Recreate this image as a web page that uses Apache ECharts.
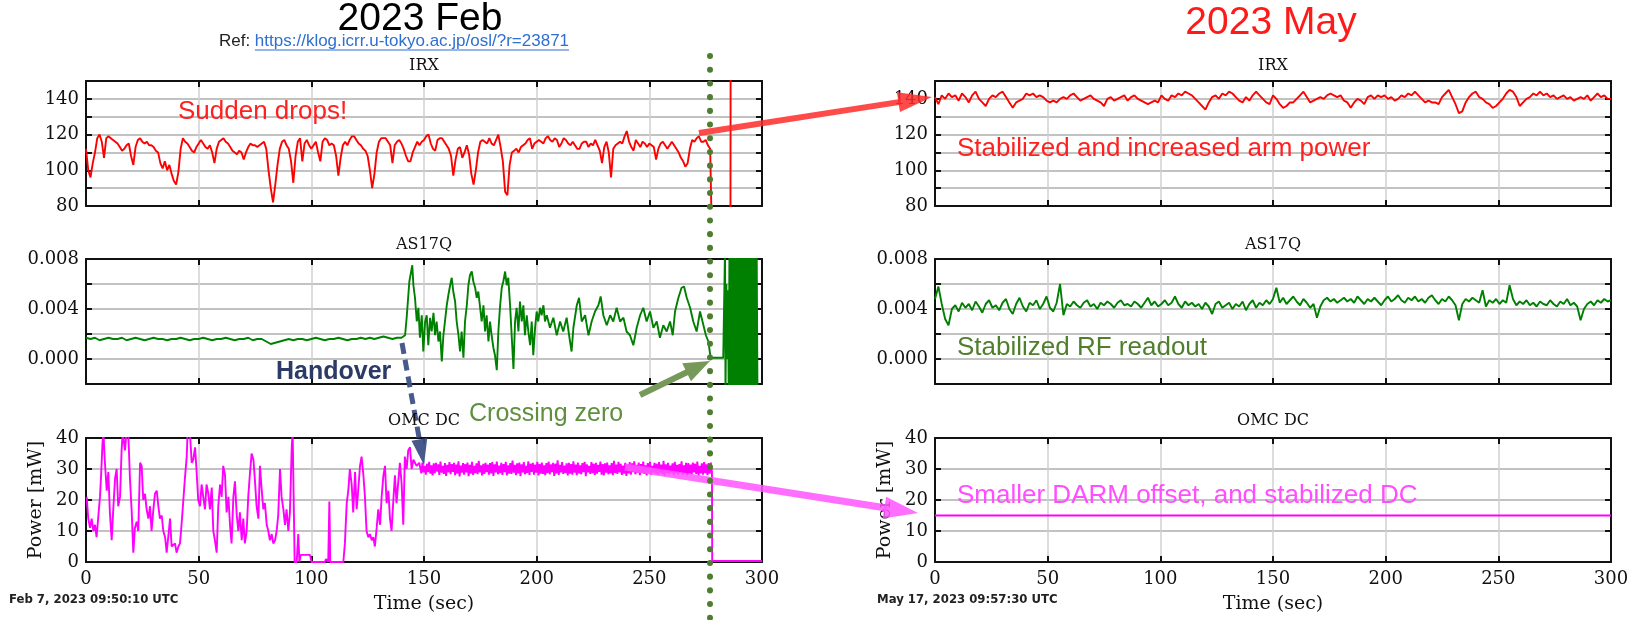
<!DOCTYPE html>
<html>
<head>
<meta charset="utf-8">
<script src="https://cdn.jsdelivr.net/npm/echarts@6.0.0/dist/echarts.min.js"></script>
<style>html,body{margin:0;background:#fff}#main{width:1640px;height:620px}</style>
</head>
<body>
<div id="main"></div>
<script>
// ---- Feb: IRX, one value per second, t = 0..277
const irxFeb = [
 112,100,96,104,110,118,120,116,107,118, 119,118,117,116,115,113,111,112,114,115,
 108,103,113,117,118,116,115,116,114,114, 113,111,110,104,101,105,100,103,98,94,
 92,99,112,118,116,115,113,111,110,113, 115,117,115,113,112,114,110,104,112,116,
 117,118,116,115,113,111,110,109,111,110, 106,110,113,115,114,114,113,114,115,116,
 112,100,90,82,92,103,112,116,117,114, 112,105,93,108,116,118,105,115,117,114,
 112,114,116,110,105,116,118,117,114,115, 114,108,97,107,114,116,114,117,119,119,
 117,115,114,112,111,108,100,90,98,110, 116,118,118,118,116,114,104,114,116,117,
 115,112,108,105,105,110,113,116, 114,116,117,119,120,115,112,111,117,118,
 118,116,114,112,108,97,106,112,113,107, 110,114,109,98,92,100,110,116,117,116,
 115,118,115,114,117,120,113,105,88,86, 103,110,111,112,110,113,114,115,117,118,
 112,115,116,117,116,115,118,119,117,116, 118,117,113,115,118,117,115,114,116,114,
 112,112,115,116,116,113,115,114,117,114, 111,104,113,116,110,96,112,114,115,116,
 115,119,122,116,113,111,117,115,113,116, 115,113,115,114,113,106,112,115,116,114,
 112,114,116,114,112,110,107,105,102,104, 112,117,116,118,119,116,116,117,114,112
];
// lock loss: IRX falls out of range, then jumps
const irxFebTailT = [277.8, 286, 286.1, 300];
const irxFebTailV = [60, 60, 200, 200];

// ---- Feb: AS17Q (units of 1e-4), quiet part every 2 s from t = 0
const asFebFlat = [
 17,16,17,15,16,17,16,16,17,15,16,17,16,15,16,17,16,16,15,16,
 16,17,16,15,16,16,17,16,15,16,16,17,16,15,16,16,17,15,16,16,
 14,12,13,14,15,16,15,16,16,15,16,17,16,15,16,16,17,16,15,16,
 16,17,16,17,16,17,18,17,16,17,17
];
// after handover (units of 1e-4)
const asFebT = [
 141.6,142.3,143.5,144.3,144.8,145.3,146.0,146.8,147.5,148.2,149.0,149.7,150.5,151.2,151.9,152.7,153.4,154.2,154.9,155.6,
 156.4,157.1,157.9,158.6,159.3,160.1,160.8,161.6,162.3,163.0,163.8,164.5,165.3,166.0,166.7,167.5,168.2,169.0,169.7,170.4,
 171.2,171.9,172.7,173.4,174.1,174.9,175.6,176.4,177.1,177.8,178.6,179.3,180.0,180.8,181.5,182.3,183.0,183.7,184.5,185.2,
 186.0,186.7,187.4,188.2,188.9,189.7,190.4,191.1,191.9,192.6,193.4,194.1,194.8,195.6,196.3,197.1,197.8,198.5,199.3,200.0,
 200.7,201.5,202.2,203.0,203.7,204.5,205.9,207.4,208.9,210.4,211.8,213.3,214.8,215.5,216.3,217.8,218.8,220.0,221.5,223.0,
 224.4,225.9,227.4,228.4,229.6,231.1,232.6,234.0,235.5,237.0,238.5,239.9,241.4,242.9,244.4,245.9,247.3,248.8,250.3,251.8,
 253.3,254.7,256.2,257.7,259.2,260.4,261.4,262.9,264.3,265.4,266.6,268.1,269.5,271.0,272.5,274.0,275.1,276.2,277.2,278.1,
 282.8,283.4,283.6,283.8,284.2,284.5,284.9,285.2,285.6,286.0,286.4,286.7,287.1,287.4,287.8,288.1,288.5,288.8,289.2,289.5,
 289.9,290.2,290.6,290.9,291.3,291.6,292.0,292.3,292.7,293.0,293.4,293.7,294.1,294.4,294.8,295.1,295.5,295.8,296.2,296.5,
 296.9,297.2,297.6,298.0
];
const asFebV = [
 19,33,62,70,75,59,49,30,41,17,35,6,30,35,11,33,22,37,19,30,
 14,22,-2,19,30,43,51,59,65,54,46,30,19,6,22,1,30,43,59,67,
 70,62,57,49,54,41,30,43,22,35,14,30,19,9,3,-9,22,41,57,62,
 70,59,65,43,19,-8,30,41,22,46,30,43,19,35,22,11,30,3,25,38,
 30,41,35,43,30,35,25,33,19,30,22,33,14,6,25,43,49,30,35,19,
 30,38,43,50,35,27,35,30,41,30,33,22,19,11,25,35,41,30,38,25,
 30,17,27,22,30,19,38,49,57,58,49,41,30,22,38,27,19,14,1,1,
 1,1,90,-30,60,0,55,-25,100,-30,100,-30,100,-30,100,-30,100,-30,100,-30,
 100,-30,100,-30,100,-30,100,-30,100,-30,100,-30,100,-30,100,-30,100,-30,100,-30,
 100,-30,100,-30
];

// ---- Feb: OMC DC [mW], before handover
const omcFebT = [
 0.3,1.0,1.8,2.5,3.3,4.0,4.7,5.5,6.2,6.7,7.3,7.7,8.4,9.2,9.9,10.6,11.4,12.1,12.9,13.6,
 14.3,15.1,15.8,16.3,17.3,18.0,18.8,19.5,20.3,21.0,21.7,22.5,23.2,24.0,24.7,25.4,26.2,26.9,27.7,28.4,
 29.1,29.9,30.6,31.4,32.1,32.8,33.6,34.3,35.1,35.8,36.5,37.3,38.0,38.8,39.5,40.2,41.0,41.7,42.4,43.2,
 43.9,44.7,45.1,46.1,46.9,47.6,48.4,49.1,49.8,50.6,51.3,52.1,52.8,53.5,54.3,55.0,55.8,56.5,57.2,58.0,
 58.7,59.5,60.2,60.9,61.7,62.4,63.2,63.9,64.6,65.4,66.1,66.9,67.6,68.3,69.1,69.8,70.5,71.3,72.0,72.8,
 73.5,74.3,75.0,75.7,76.5,77.2,78.0,78.7,79.4,80.2,80.9,81.6,82.4,83.1,83.9,84.6,85.3,86.1,86.8,87.6,
 88.3,89.0,89.8,90.5,91.3,91.7,92.3,92.6,93.5,94.2,94.7,95.3,99.4,100.1,106.0,106.5,107.5,108.0,108.4,114.2,
 114.9,115.7,116.4,117.1,117.9,118.6,119.4,120.1,120.8,121.6,122.3,123.1,123.8,124.5,125.3,126.0,126.8,127.5,128.2,129.0,
 129.7,130.5,131.2,132.0,132.7,133.4,134.2,134.9,135.6,136.4,137.1,137.8,138.6,139.3,140.1,140.8,141.5,142.3,143.0,143.8,
 144.5,145.3,146.7,147.9
];
const omcFebV = [
 21,14,11,14,10,12,8,15,21,28,38,42,32,23,29,16,7,17,27,30,
 18,21,36,42,36,42,41,27,16,3,11,13,10,32,31,20,22,17,14,18,
 10,17,22,23,18,14,15,10,8,3,8,14,5,5,6,3,5,6,12,20,
 27,34,42,42,32,33,37,29,20,18,25,25,17,25,22,17,24,10,7,3,
 18,25,21,31,28,16,21,12,6,21,26,15,10,16,7,14,6,10,21,29,
 35,33,26,18,14,31,23,17,19,12,10,7,9,6,7,10,15,30,21,17,
 12,17,10,16,37,42,42,0,0,9,0,2.3,2.3,0,0,0.9,0,19.5,0,0,
 6,19,23,30,25,16,29,17,23,31,34,28,21,10,8,9,7,8,5,11,
 17,12,21,28,31,19,23,14,10,20,28,19,26,32,25,12,34,30,36,37,
 30,33,31,32
];
// after handover, every 0.5 s from t = 148.3
const omcFebBand = [
 31.4,28.6,32.1,28.9,31.0,28.2,31.7,29.0,32.3,28.5, 31.2,27.9,31.8,28.7,32.0,29.2,31.5,28.1,32.4,28.8,
 31.0,28.4,31.9,27.8,31.3,28.9,32.2,28.3,31.6,29.1, 32.0,28.0,31.4,28.6,32.5,27.6,31.1,28.8,31.9,28.2,
 31.6,28.9,32.1,27.7,31.3,28.5,32.3,28.1,31.0,28.7, 31.8,28.3,32.6,28.9,31.2,27.9,31.7,28.4,32.0,29.0,
 31.4,28.2,31.9,28.6,32.2,27.8,31.5,28.9,32.4,28.3, 31.1,28.7,32.0,28.1,31.6,29.0,32.3,27.9,31.2,28.5,
 31.9,28.4,32.7,28.8,31.3,28.0,31.8,28.6,32.1,27.7, 31.5,28.9,32.2,28.3,31.0,28.7,32.5,28.1,31.7,29.1,
 32.0,28.2,31.4,28.8,32.3,27.9,31.6,28.5,32.1,28.4, 31.2,28.0,31.9,28.7,32.4,28.3,31.5,29.0,32.0,27.8,
 31.7,28.6,32.8,28.1,31.3,28.9,32.2,28.4,31.1,28.7, 31.8,27.9,32.0,28.5,31.6,28.2,32.5,28.8,31.4,28.0,
 32.1,28.6,31.2,28.3,31.9,29.0,32.3,27.7,31.5,28.9, 31.0,28.4,32.2,28.7,31.7,28.1,32.0,28.5,31.3,29.1,
 32.4,28.2,31.6,27.9,31.8,28.8,32.1,28.3,31.2,28.6, 31.9,28.0,32.6,28.7,31.4,28.4,32.3,28.9,31.7,28.1,
 31.1,28.5,32.0,27.8,31.5,28.6,32.2,28.2,31.8,29.0, 32.5,28.3,31.3,28.8,32.1,28.0,31.6,28.7,32.4,28.4,
 31.2,27.9,31.9,28.6,32.3,28.2,31.0,28.9,32.0,28.5, 31.7,28.1,32.2,28.8,31.4,28.3,32.6,27.8,31.5,28.7,
 32.0,28.4,31.1,28.9,31.8,28.0,32.3,28.6,31.3,28.2, 31.6,28.8,32.5,28.1,31.2,28.7,32.0,27.9,31.9,28.5,
 31.4,28.3,32.1,28.9,31.7,28.4,32.4,28.0,31.0,28.6, 31.8,28.2,32.2,28.7,31.5,28.0,31.9,28.5,32.1,28.9
];
const omcFebTailT = [277.9, 300];
const omcFebTailV = [0.3, 0.3];

// ---- May, every 1.5 s from t = 0
const irxMay = [
 141,137,142,140,143,141,142,139,143,141, 138,142,144,140,138,136,140,142,141,143,
 144,141,138,135,138,139,140,143,142,143, 141,142,141,139,138,139,138,140,141,140,
 142,143,141,139,140,141,142,140,139,138, 136,140,141,139,140,141,142,139,141,142,
 140,139,138,137,138,139,138,142,140,139, 142,141,143,142,144,143,142,140,138,136,
 134,138,141,142,140,143,142,144,143,141, 139,138,141,139,142,144,142,140,138,137,
 142,140,137,135,136,138,138,140,142,144, 141,138,139,140,141,140,142,143,142,141,
 142,139,138,135,138,140,139,137,141,142, 140,142,141,142,140,141,139,140,142,141,
 143,142,144,142,140,138,139,138,138,137, 141,143,145,141,137,132,133,138,141,143,
 144,141,140,138,137,135,136,138,140,143, 145,144,141,136,138,140,141,143,142,144,
 142,143,141,142,140,141,142,140,141,139, 140,141,140,142,139,141,143,141,142,140,
 140
];
const asMay = [
 48,58,44,32,27,40,43,38,45,41, 44,39,46,42,37,44,47,41,43,39,
 45,48,40,36,44,49,42,38,45,43, 47,40,44,50,41,38,45,60,35,44,
 42,46,43,41,45,47,42,44,40,45, 43,46,44,41,45,47,43,44,42,46,
 44,41,45,49,43,46,42,44,47,43, 45,50,44,41,46,43,45,42,44,40,
 45,42,36,44,46,41,43,45,40,44, 42,46,39,44,47,41,45,43,47,44,
 48,57,45,49,44,47,50,46,43,48, 45,41,44,33,42,47,49,46,48,45,
 47,49,46,48,45,50,47,44,48,46, 49,46,43,47,50,46,48,51,47,45,
 49,47,50,46,48,45,49,51,47,44, 48,46,50,47,43,31,44,48,46,49,
 47,45,55,42,47,45,48,44,47,45, 59,48,43,46,44,47,43,45,42,46,
 44,43,47,44,42,46,44,48,43,45, 42,31,40,44,46,43,47,45,48,46,
 47
];
const omcMayT = [0, 300];
const omcMayV = [15, 15];

const url = 'https://klog.icrr.u-tokyo.ac.jp/osl/?r=23871';

// ---------------------------------------------------------------
const SERIF = "'DejaVu Serif', serif";
const SANS = "'Liberation Sans', Arial, sans-serif";
const NARROW = "'Liberation Sans Narrow', 'DejaVu Sans Condensed', sans-serif";
const colLeft = [86, 935];
const plotW = 676;
const rows = [{top: 81, h: 125}, {top: 259, h: 125}, {top: 438, h: 124}];
const yCfg = [
    {min: 80, max: 150, interval: 10, fmt: v => (v % 20 === 0 ? String(v) : '')},
    {min: -0.002, max: 0.008, interval: 0.002, fmt: v => {
        let k = Math.round(v / 0.002);
        return (k >= 0 && k % 2 === 0) ? (k * 0.002).toFixed(3) : '';
    }},
    {min: 0, max: 40, interval: 10, fmt: v => String(v)}
];
const names = ['IRX', 'AS17Q', 'OMC DC'];

let grid = [], xAxis = [], yAxis = [], elements = [];
const tick = {inside: true, length: 6, lineStyle: {color: '#111', width: 2}};
const line = {show: true, onZero: false, lineStyle: {color: '#111', width: 2}};
const labelFont = {color: '#111', fontFamily: SERIF, fontSize: 18};

for (let c = 0; c < 2; c++) {
    for (let r = 0; r < 3; r++) {
        let g = c * 3 + r;
        grid.push({left: colLeft[c], top: rows[r].top, width: plotW, height: rows[r].h});
        xAxis[g] = {
            gridIndex: g, type: 'value', min: 0, max: 300, interval: 50, position: 'bottom',
            axisLine: line, axisTick: tick,
            axisLabel: Object.assign({show: r === 2, margin: 8}, labelFont),
            splitLine: {show: true, lineStyle: {color: '#d0d0d0', width: 1.5}},
            name: r === 2 ? 'Time (sec)' : '', nameLocation: 'middle', nameGap: 33,
            nameTextStyle: {color: '#111', fontFamily: SERIF, fontSize: 19}
        };
        xAxis[6 + g] = {
            gridIndex: g, type: 'value', min: 0, max: 300, interval: 50, position: 'top',
            axisLine: line, axisTick: tick, axisLabel: {show: false}, splitLine: {show: false}
        };
        let y = yCfg[r];
        yAxis[g] = {
            gridIndex: g, type: 'value', min: y.min, max: y.max, interval: y.interval, position: 'left',
            axisLine: line, axisTick: tick,
            axisLabel: Object.assign({margin: 7, formatter: y.fmt}, labelFont),
            splitLine: {show: true, lineStyle: {color: '#c2c2c2', width: 2}},
            name: r === 2 ? 'Power [mW]' : '', nameLocation: 'middle', nameGap: 40, nameRotate: 90,
            nameTextStyle: {color: '#111', fontFamily: SERIF, fontSize: 19}
        };
        yAxis[6 + g] = {
            gridIndex: g, type: 'value', min: y.min, max: y.max, interval: y.interval, position: 'right',
            axisLine: line, axisTick: tick, axisLabel: {show: false}, splitLine: {show: false}
        };
        elements.push(txt(colLeft[c] + plotW / 2, [66, 245, 421][r], names[r], '#111', '16px ' + SERIF, 'center'));
    }
}

function txt(x, y, text, fill, font, align) {
    return {type: 'text', x: x, y: y, z: 100,
        style: {text: text, fill: fill, font: font, align: align || 'left', textAlign: align || 'left',
            verticalAlign: 'middle', textVerticalAlign: 'middle'}};
}

function arrow(x1, y1, x2, y2, o) {
    let dx = x2 - x1, dy = y2 - y1, len = Math.hypot(dx, dy), ux = dx / len, uy = dy / len;
    let bx = x2 - ux * o.head, by = y2 - uy * o.head;
    let px = -uy * o.hw / 2, py = ux * o.hw / 2;
    return [
        {type: 'line', z: 90, shape: {x1: x1, y1: y1, x2: bx + ux * 2, y2: by + uy * 2},
            style: {stroke: o.color, lineWidth: o.w, lineDash: o.dash || null, opacity: o.op || 1}},
        {type: 'polygon', z: 90, shape: {points: [[x2, y2], [bx + px, by + py], [bx - px, by - py]]},
            style: {fill: o.color, opacity: o.op || 1}}
    ];
}

function pairs(ts, vs, k) {
    return ts.map((t, i) => [t, vs[i] * (k || 1)]);
}

// series data
let irxFebData = irxFeb.map((v, i) => [i, v]).concat(pairs(irxFebTailT, irxFebTailV));
let asFebData = asFebFlat.map((v, i) => [2 * i, v / 1e4]).concat(pairs(asFebT, asFebV, 1e-4));
let omcFebData = pairs(omcFebT, omcFebV)
    .concat(omcFebBand.map((v, i) => [148.3 + 0.5 * i, v]))
    .concat(pairs(omcFebTailT, omcFebTailV));
let irxMayData = irxMay.map((v, i) => [1.5 * i, v]);
let asMayData = asMay.map((v, i) => [1.5 * i, v / 1e4]);
let omcMayData = pairs(omcMayT, omcMayV);

function ser(g, data, color) {
    return {type: 'line', xAxisIndex: g, yAxisIndex: g, data: data, showSymbol: false, symbol: 'none',
        clip: true, lineStyle: {color: color, width: 1.9}, z: 5};
}

// texts
elements.push(txt(420, 19, '2023 Feb', '#000', '39px ' + SANS, 'center'));
elements.push(txt(1271, 23, '2023 May', '#ff1a1a', '39px ' + SANS, 'center'));

let ctx = document.createElement('canvas').getContext('2d');
ctx.font = "17px 'Liberation Sans'";
let refW = ctx.measureText('Ref: ').width, urlW = ctx.measureText(url).width;
let rx = 394 - (refW + urlW) / 2;
elements.push(txt(rx, 41, 'Ref: ', '#222', '17px ' + SANS));
elements.push(txt(rx + refW, 41, url, '#2f6fd0', '17px ' + SANS));
elements.push({type: 'line', z: 100, shape: {x1: rx + refW, y1: 50, x2: rx + refW + urlW, y2: 50},
    style: {stroke: '#2f6fd0', lineWidth: 1.2}});

elements.push(txt(178, 112, 'Sudden drops!', '#ff2020', '26px ' + SANS));
elements.push(txt(957, 149, 'Stabilized and increased arm power', '#ff2020', '26px ' + SANS));
elements.push(txt(957, 348, 'Stabilized RF readout', '#4f7f2c', '26px ' + SANS));
elements.push(txt(957, 496, 'Smaller DARM offset, and stabilized DC', '#ff4dff', '26px ' + SANS));
elements.push(txt(276, 372, 'Handover', '#2b3a67', 'bold 25px ' + SANS));
elements.push(txt(469, 414, 'Crossing zero', '#5f8f3f', '25px ' + SANS));

elements.push(txt(9, 600, 'Feb 7, 2023 09:50:10 UTC', '#222', 'bold 13px ' + NARROW));
elements.push(txt(877, 600, 'May 17, 2023 09:57:30 UTC', '#222', 'bold 13px ' + NARROW));

// arrows and the dotted marker
elements = elements.concat(
    arrow(699, 133, 932, 97, {color: '#ff2a2a', w: 6, head: 34, hw: 20, op: 0.85}),
    arrow(625, 467, 918, 513, {color: '#ff55ff', w: 7, head: 34, hw: 22, op: 0.85}),
    arrow(402, 343, 424, 465, {color: '#3d5185', w: 5, head: 26, hw: 16, op: 0.95, dash: [11, 6]}),
    arrow(640, 395, 710, 361, {color: '#76995a', w: 6, head: 26, hw: 20})
);
elements.push({type: 'line', z: 95, shape: {x1: 710, y1: 56, x2: 710, y2: 620},
    style: {stroke: '#4f7d2f', lineWidth: 6, lineDash: [0.1, 13.6], lineCap: 'round'}});

let chart = echarts.init(document.getElementById('main'));
chart.setOption({
    animation: false,
    backgroundColor: '#fff',
    grid: grid,
    xAxis: xAxis,
    yAxis: yAxis,
    series: [
        ser(0, irxFebData, '#ff0000'),
        ser(1, asFebData, '#008000'),
        ser(2, omcFebData, '#ff00ff'),
        ser(3, irxMayData, '#ff0000'),
        ser(4, asMayData, '#008000'),
        ser(5, omcMayData, '#ff00ff')
    ],
    graphic: {elements: elements}
});
</script>
</body>
</html>
